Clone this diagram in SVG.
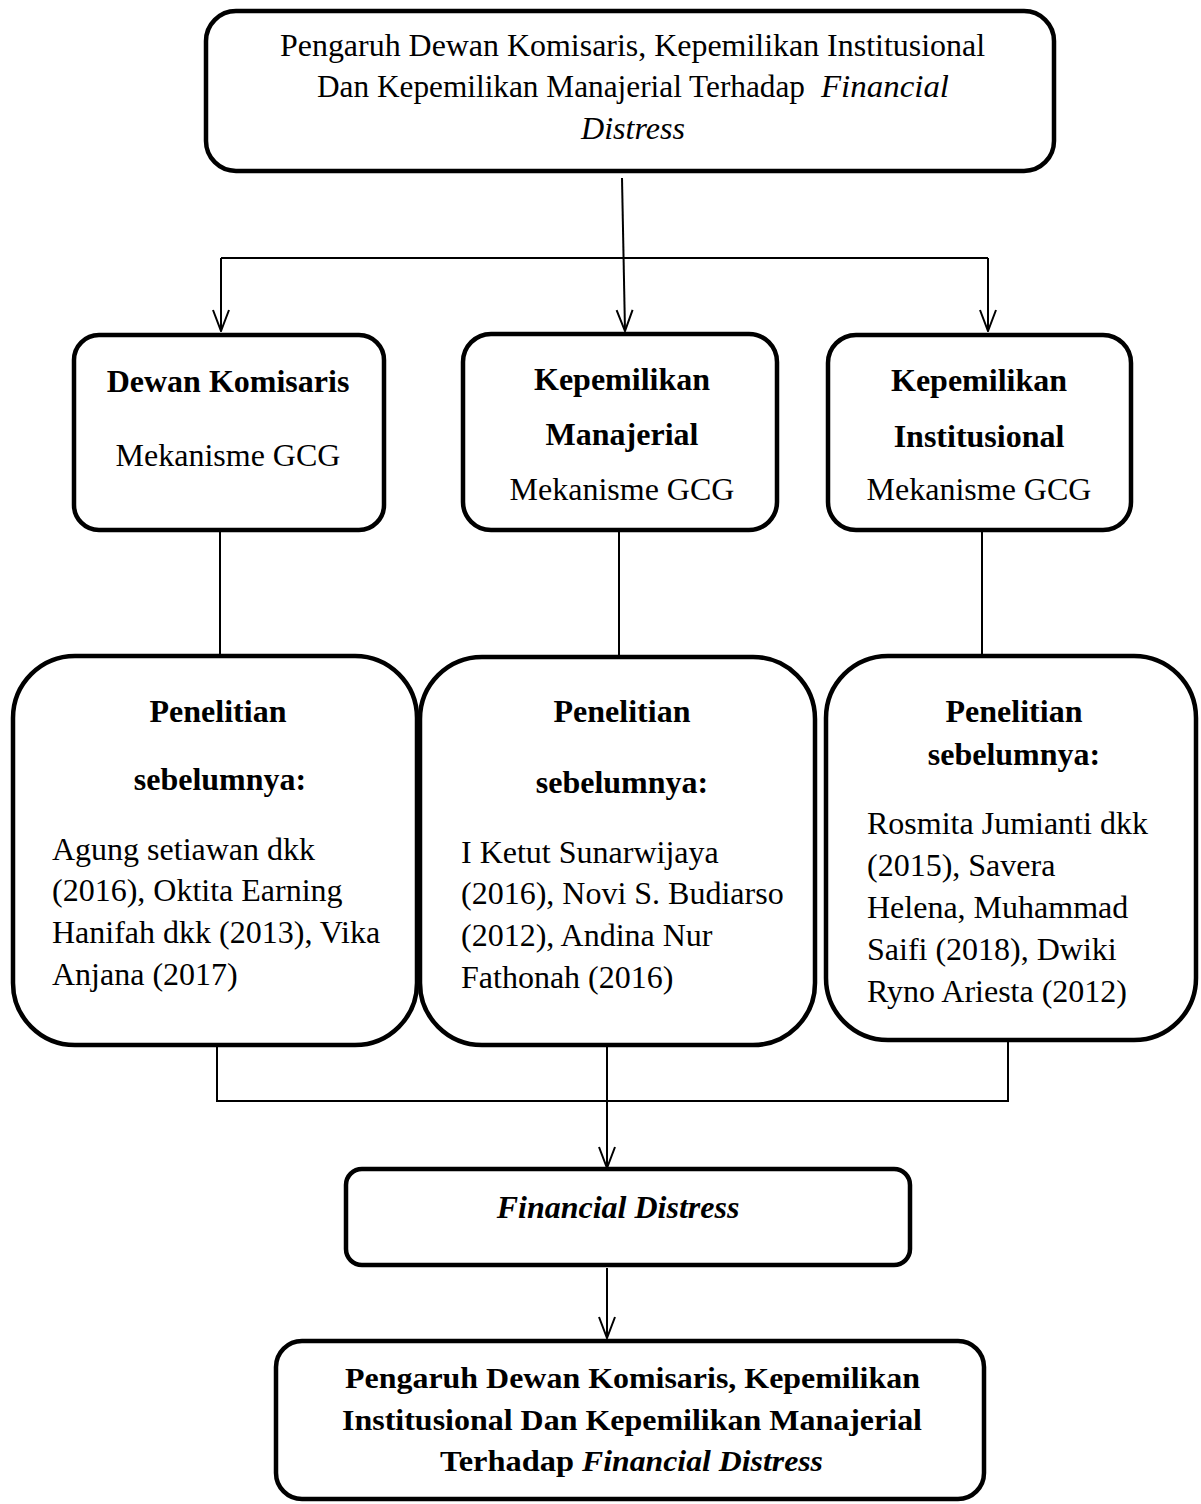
<svg xmlns="http://www.w3.org/2000/svg" width="1201" height="1504" viewBox="0 0 1201 1504">
<style>
.box{fill:#fff;stroke:#000;stroke-width:4.5}
.ln{fill:none;stroke:#000;stroke-width:2}
.t{font-family:"Liberation Serif","Times New Roman",serif;font-size:32px;fill:#000}
.b{font-weight:bold}
.i{font-style:italic}
.c{text-anchor:middle}
.big{font-size:32px}
.bot{font-size:30px}
</style>
<defs>
<marker id="arr" viewBox="0 0 24 20" refX="23" refY="10" markerWidth="24" markerHeight="20" markerUnits="userSpaceOnUse" orient="auto">
<path d="M2,2 L23,10 L2,18" fill="none" stroke="#000" stroke-width="2"/>
</marker>
</defs>
<rect width="1201" height="1504" fill="#fff"/>
<g id="connectors">
<path class="ln" d="M622,178 L625,331" marker-end="url(#arr)"/>
<path class="ln" d="M221,258 L988,258"/>
<path class="ln" d="M221,258 L221,331" marker-end="url(#arr)"/>
<path class="ln" d="M988,258 L988,331" marker-end="url(#arr)"/>
<path class="ln" d="M220,532 L220,656"/>
<path class="ln" d="M619,532 L619,656"/>
<path class="ln" d="M982,532 L982,656"/>
<path class="ln" d="M217,1046 L217,1101 L1008,1101 L1008,1040"/>
<path class="ln" d="M607,1046 L607,1168" marker-end="url(#arr)"/>
<path class="ln" d="M607,1268 L607,1338" marker-end="url(#arr)"/>
</g>
<g id="top">
<rect class="box" x="206" y="11" width="848" height="160" rx="30"/>
<text class="t big" x="280" y="56" textLength="705" lengthAdjust="spacingAndGlyphs">Pengaruh Dewan Komisaris, Kepemilikan Institusional</text>
<text class="t big" x="317" y="97" textLength="488" lengthAdjust="spacingAndGlyphs">Dan Kepemilikan Manajerial Terhadap</text>
<text class="t big i" x="821" y="97" textLength="128" lengthAdjust="spacingAndGlyphs">Financial</text>
<text class="t big i" x="581" y="139" textLength="104" lengthAdjust="spacingAndGlyphs">Distress</text>
</g>
<g id="dewan">
<rect class="box" x="74" y="335" width="310" height="195" rx="25"/>
<text class="t b c" x="228" y="392">Dewan Komisaris</text>
<text class="t c" x="228" y="466">Mekanisme GCG</text>
</g>
<g id="manajerial">
<rect class="box" x="463" y="334" width="314" height="196" rx="28"/>
<text class="t b c" x="622" y="390">Kepemilikan</text>
<text class="t b c" x="622" y="445">Manajerial</text>
<text class="t c" x="622" y="500">Mekanisme GCG</text>
</g>
<g id="institusional">
<rect class="box" x="828" y="335" width="303" height="195" rx="28"/>
<text class="t b c" x="979" y="391">Kepemilikan</text>
<text class="t b c" x="979" y="447">Institusional</text>
<text class="t c" x="979" y="500">Mekanisme GCG</text>
</g>
<g id="penelitian1">
<rect class="box" x="13" y="656" width="404" height="389" rx="62"/>
<text class="t b c" x="218" y="722">Penelitian</text>
<text class="t b c" x="220" y="790">sebelumnya:</text>
<text class="t" x="52" y="860">Agung setiawan dkk</text>
<text class="t" x="52" y="901">(2016), Oktita Earning</text>
<text class="t" x="52" y="943">Hanifah dkk (2013), Vika</text>
<text class="t" x="52" y="985">Anjana (2017)</text>
</g>
<g id="penelitian2">
<rect class="box" x="420" y="657" width="395" height="388" rx="62"/>
<text class="t b c" x="622" y="722">Penelitian</text>
<text class="t b c" x="622" y="793">sebelumnya:</text>
<text class="t" x="461" y="863">I Ketut Sunarwijaya</text>
<text class="t" x="461" y="904">(2016), Novi S. Budiarso</text>
<text class="t" x="461" y="946">(2012), Andina Nur</text>
<text class="t" x="461" y="988">Fathonah (2016)</text>
</g>
<g id="penelitian3">
<rect class="box" x="826" y="656" width="370" height="384" rx="62"/>
<text class="t b c" x="1014" y="722">Penelitian</text>
<text class="t b c" x="1014" y="765">sebelumnya:</text>
<text class="t" x="867" y="834">Rosmita Jumianti dkk</text>
<text class="t" x="867" y="876">(2015), Savera</text>
<text class="t" x="867" y="918">Helena, Muhammad</text>
<text class="t" x="867" y="960">Saifi (2018), Dwiki</text>
<text class="t" x="867" y="1002">Ryno Ariesta (2012)</text>
</g>
<g id="financial">
<rect class="box" x="346" y="1169" width="564" height="96" rx="16"/>
<text class="t b i c" x="618" y="1218">Financial Distress</text>
</g>
<g id="bottom">
<rect class="box" x="276" y="1341" width="708" height="158" rx="26"/>
<text class="t bot b" x="345" y="1388" textLength="575" lengthAdjust="spacingAndGlyphs">Pengaruh Dewan Komisaris, Kepemilikan</text>
<text class="t bot b" x="342" y="1430" textLength="580" lengthAdjust="spacingAndGlyphs">Institusional Dan Kepemilikan Manajerial</text>
<text class="t bot b" x="440" y="1471" textLength="134" lengthAdjust="spacingAndGlyphs">Terhadap</text>
<text class="t bot b i" x="582" y="1471" textLength="241" lengthAdjust="spacingAndGlyphs">Financial Distress</text>
</g>
</svg>
